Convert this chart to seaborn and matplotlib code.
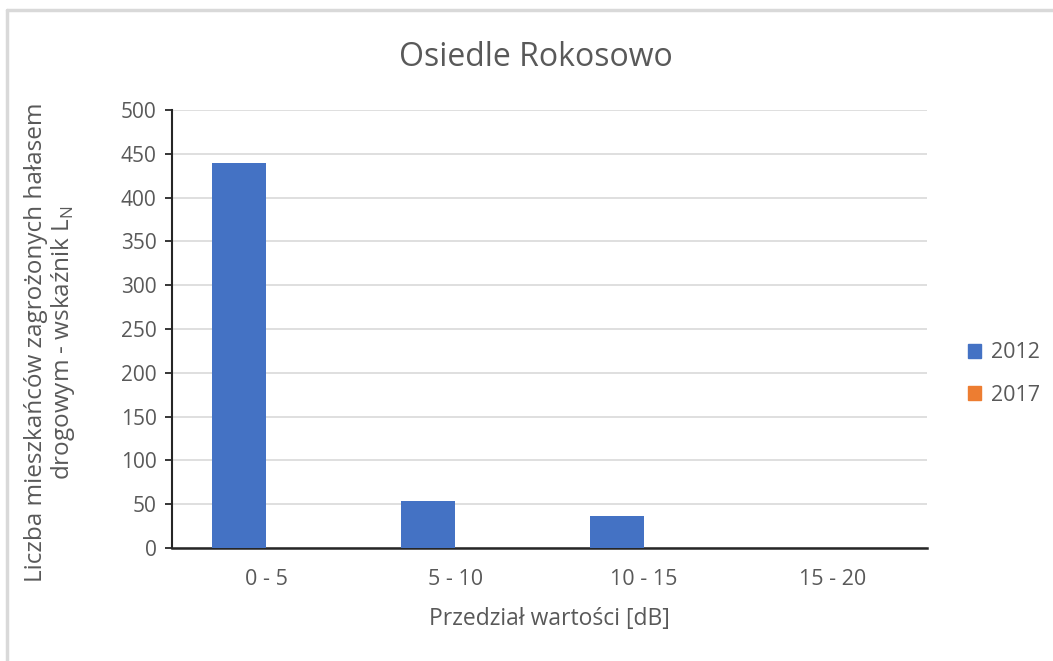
import matplotlib
matplotlib.use("Agg")
import matplotlib.pyplot as plt
import matplotlib.patches as mpatches
from matplotlib.lines import Line2D
import seaborn as sns
import pandas as pd

# data
categories = ["0 - 5", "5 - 10", "10 - 15", "15 - 20"]
years = ["2012", "2017"]
values_2012 = [440, 54, 37, 0]
values_2017 = [0, 0, 0, 0]
colors = ["#4472C4", "#ED7D31"]

df = pd.DataFrame({
    "przedzial": categories * 2,
    "rok": [years[0]] * 4 + [years[1]] * 4,
    "liczba": values_2012 + values_2017,
})

sns.set_style("white")
plt.rcParams["font.family"] = ["Open Sans", "DejaVu Sans"]
txt = "#595959"

fig = plt.figure(figsize=(10.53, 6.61), dpi=100)
ax = fig.add_axes([0.1633, 0.171, 0.717, 0.6626])

sns.barplot(data=df, x="przedzial", y="liczba", hue="rok", order=categories,
            hue_order=years, palette=colors, width=0.572, ax=ax,
            saturation=1, legend=False, linewidth=0, zorder=3)

ax.set_ylim(0, 500)
ax.set_yticks(range(0, 501, 50))
ax.set_xlim(-0.5, 3.5)
ax.yaxis.grid(True, color="#D9D9D9", lw=1.2, zorder=0)
ax.set_axisbelow(True)
for s in ["top", "right"]:
    ax.spines[s].set_visible(False)
ax.spines["left"].set_color("#262626")
ax.spines["left"].set_linewidth(1.5)
ax.spines["bottom"].set_color("#262626")
ax.spines["bottom"].set_linewidth(1.8)
ax.tick_params(axis="y", left=True, length=5, width=1.3, color="#262626",
               labelsize=15, labelcolor=txt, pad=6)
ax.tick_params(axis="x", bottom=False, labelsize=15.5, labelcolor=txt, pad=12)

fig.text(0.509, 0.913, "Osiedle Rokosowo", fontsize=23, color=txt,
         ha="center", va="center")
ax.set_xlabel("Przedział wartości [dB]", fontsize=16.5, color=txt, labelpad=12)
ax.set_ylabel("Liczba mieszkańców zagrożonych hałasem\ndrogowym - wskaźnik L$_\\mathregular{N}$",
              fontsize=17.5, color=txt, linespacing=1.05)
ax.yaxis.set_label_coords(-0.126, 0.47)

handles = [mpatches.Patch(color=c, label=y) for c, y in zip(colors, years)]
ax.legend(handles=handles, loc="center left", bbox_to_anchor=(1.029, 0.397),
          frameon=False, fontsize=15.5, labelcolor=txt, handlelength=0.6,
          handleheight=0.6, handletextpad=0.45, labelspacing=1.0)

# light chart frame (top and left edges visible in the screenshot)
fig.add_artist(Line2D([0.0066, 1.0], [0.985, 0.985], color="#D9D9D9", lw=2.5,
                      transform=fig.transFigure))
fig.add_artist(Line2D([0.0066, 0.0066], [0.0, 0.985], color="#D9D9D9", lw=2.5,
                      transform=fig.transFigure))

fig.savefig("out.png", dpi=100, facecolor="white")
